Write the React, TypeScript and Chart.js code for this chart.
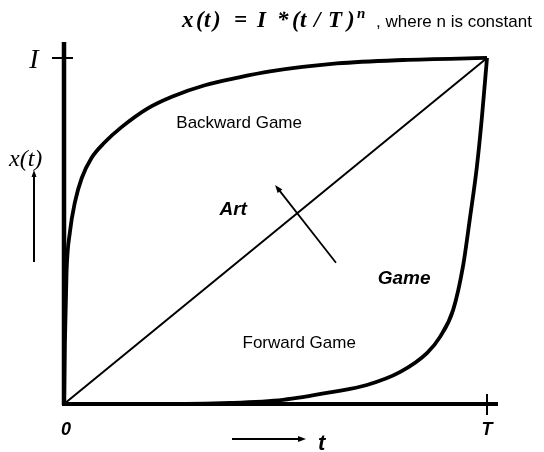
import { useEffect, useRef } from "react";
import { Chart, registerables } from "chart.js";

Chart.register(...registerables);

// t as a fraction of T, x as a fraction of I
const backwardT = [0, 0.002, 0.006, 0.014, 0.026, 0.042, 0.065, 0.097, 0.136, 0.199, 0.255, 0.333, 0.411, 0.487, 0.645, 0.801, 1];
const backwardX = [0, 0.17, 0.38, 0.497, 0.584, 0.653, 0.711, 0.757, 0.8, 0.855, 0.888, 0.921, 0.943, 0.961, 0.984, 0.994, 1];
const forwardT = [0, 0.203, 0.392, 0.518, 0.636, 0.716, 0.794, 0.858, 0.889, 0.92, 0.943, 0.96, 0.976, 0.988, 1];
const forwardX = [0, 0, 0.003, 0.012, 0.035, 0.055, 0.092, 0.147, 0.194, 0.272, 0.396, 0.54, 0.685, 0.829, 1];
const diagonalT = [0, 1];
const diagonalX = [0, 1];

// Arrow crossing the diagonal (tail -> head), in data units
const artArrowT = [0.643, 0.499];
const artArrowX = [0.408, 0.633];

// Region labels: text, t, x
const regionLabels = ["Backward Game", "Art", "Game", "Forward Game"];
const regionLabelT = [0.414, 0.4, 0.804, 0.556];
const regionLabelX = [0.812, 0.561, 0.361, 0.176];

const xTickLabels = ["0", "T"];
const yTickLabel = "I";
const titleText = ", where n is constant";

const toPts = (ts: number[], xs: number[]) => ts.map((t, i) => ({ x: t, y: xs[i] }));

const SERIF = "'Liberation Serif', 'DejaVu Serif', serif";
const SANS = "'Liberation Sans', Arial, sans-serif";

function arrowHead(ctx: CanvasRenderingContext2D, x1: number, y1: number, x2: number, y2: number, len: number, half: number) {
  const a = Math.atan2(y2 - y1, x2 - x1);
  ctx.beginPath();
  ctx.moveTo(x2, y2);
  ctx.lineTo(x2 - len * Math.cos(a) + half * Math.sin(a), y2 - len * Math.sin(a) - half * Math.cos(a));
  ctx.lineTo(x2 - len * Math.cos(a) - half * Math.sin(a), y2 - len * Math.sin(a) + half * Math.cos(a));
  ctx.closePath();
  ctx.fill();
}

const decorPlugin = {
  id: "decor",
  afterDatasetsDraw(chart: any) {
    const { ctx, chartArea, scales } = chart;
    const xs = scales.x;
    const ys = scales.y;
    ctx.save();
    ctx.fillStyle = "#000";
    ctx.strokeStyle = "#000";
    ctx.lineCap = "butt";

    // axes
    ctx.lineWidth = 4.5;
    ctx.beginPath();
    ctx.moveTo(chartArea.left, chartArea.top);
    ctx.lineTo(chartArea.left, chartArea.bottom + 1);
    ctx.stroke();
    ctx.lineWidth = 4;
    ctx.beginPath();
    ctx.moveTo(chartArea.left - 2, chartArea.bottom);
    ctx.lineTo(chartArea.right, chartArea.bottom);
    ctx.stroke();

    // tick crosses
    const iy = ys.getPixelForValue(1);
    const tx = xs.getPixelForValue(1);
    const ox = xs.getPixelForValue(0);
    ctx.lineWidth = 2;
    ctx.beginPath();
    ctx.moveTo(ox - 12, iy);
    ctx.lineTo(ox + 9, iy);
    ctx.moveTo(tx, chartArea.bottom - 10);
    ctx.lineTo(tx, chartArea.bottom + 11);
    ctx.stroke();

    // tick labels
    ctx.textAlign = "center";
    ctx.textBaseline = "alphabetic";
    ctx.font = `bold italic 18px ${SANS}`;
    ctx.fillText(xTickLabels[0], ox + 2, 435);
    ctx.fillText(xTickLabels[1], tx, 435);
    ctx.font = `italic 28px ${SERIF}`;
    ctx.fillText(yTickLabel, 34, 68);

    // y axis title with arrow
    ctx.textAlign = "left";
    ctx.font = `italic 24px ${SERIF}`;
    ctx.fillText("x(t)", 9, 166);
    ctx.lineWidth = 2;
    ctx.beginPath();
    ctx.moveTo(34, 262);
    ctx.lineTo(34, 176);
    ctx.stroke();
    arrowHead(ctx, 34, 262, 34, 170, 7, 2.5);

    // x axis title with arrow
    ctx.beginPath();
    ctx.moveTo(232, 439);
    ctx.lineTo(300, 439);
    ctx.stroke();
    arrowHead(ctx, 232, 439, 306, 439, 8, 3);
    ctx.font = `bold italic 22px ${SANS}`;
    ctx.fillText("t", 318, 450);

    // arrow across diagonal
    const ax1 = xs.getPixelForValue(artArrowT[0]);
    const ay1 = ys.getPixelForValue(artArrowX[0]);
    const ax2 = xs.getPixelForValue(artArrowT[1]);
    const ay2 = ys.getPixelForValue(artArrowX[1]);
    ctx.lineWidth = 1.8;
    ctx.beginPath();
    ctx.moveTo(ax1, ay1);
    ctx.lineTo(ax2 + (ax1 - ax2) * 0.06, ay2 + (ay1 - ay2) * 0.06);
    ctx.stroke();
    arrowHead(ctx, ax1, ay1, ax2, ay2, 8, 3);

    // region labels
    ctx.textAlign = "center";
    ctx.textBaseline = "middle";
    regionLabels.forEach((txt, i) => {
      const bold = txt === "Art" || txt === "Game";
      ctx.font = bold ? `bold italic 19px ${SANS}` : `17px ${SANS}`;
      ctx.fillText(txt, xs.getPixelForValue(regionLabelT[i]), ys.getPixelForValue(regionLabelX[i]));
    });

    // title formula x(t) = I * (t / T)^n
    ctx.textAlign = "left";
    ctx.textBaseline = "alphabetic";
    ctx.font = `bold italic 23px ${SERIF}`;
    const parts: [string, number][] = [
      ["x", 182], ["(", 196], ["t", 204], [")", 213],
      ["=", 234], ["I", 257], ["*", 277],
      ["(", 292], ["t", 300], ["/", 314], ["T", 328], [")", 347],
    ];
    parts.forEach(([s, x]) => ctx.fillText(s, x, 27));
    ctx.font = `bold italic 15px ${SERIF}`;
    ctx.fillText("n", 357, 18);
    ctx.font = `17px ${SANS}`;
    ctx.fillText(titleText, 376, 27);

    ctx.restore();
  },
};

export default function App() {
  const ref = useRef<HTMLCanvasElement | null>(null);
  useEffect(() => {
    if (!ref.current) return;
    const chart = new Chart(ref.current, {
      type: "line",
      data: {
        datasets: [
          {
            label: "Backward Game",
            data: toPts(backwardT, backwardX),
            borderColor: "#000",
            borderWidth: 3.8,
            pointRadius: 0,
            cubicInterpolationMode: "monotone",
            clip: false as any,
          },
          {
            label: "Forward Game",
            data: toPts(forwardT, forwardX),
            borderColor: "#000",
            borderWidth: 3.8,
            pointRadius: 0,
            cubicInterpolationMode: "monotone",
            clip: false as any,
          },
          {
            label: "Art",
            data: toPts(diagonalT, diagonalX),
            borderColor: "#000",
            borderWidth: 2,
            pointRadius: 0,
            tension: 0,
            clip: false as any,
          },
        ],
      },
      options: {
        responsive: false,
        animation: false,
        parsing: false as any,
        layout: { padding: { left: 64, right: 46, top: 42, bottom: 48 } },
        plugins: { legend: { display: false }, tooltip: { enabled: false }, title: { display: false } },
        scales: {
          x: { type: "linear", display: false, min: 0, max: 1.026 },
          y: { type: "linear", display: false, min: 0, max: 1.046 },
        },
      },
      plugins: [decorPlugin],
    });
    return () => chart.destroy();
  }, []);
  return (
    <div style={{ position: "fixed", left: 0, top: 0, width: 544, height: 452, background: "#fff" }}>
      <canvas ref={ref} width={544} height={452} style={{ display: "block", width: 544, height: 452 }} />
    </div>
  );
}
